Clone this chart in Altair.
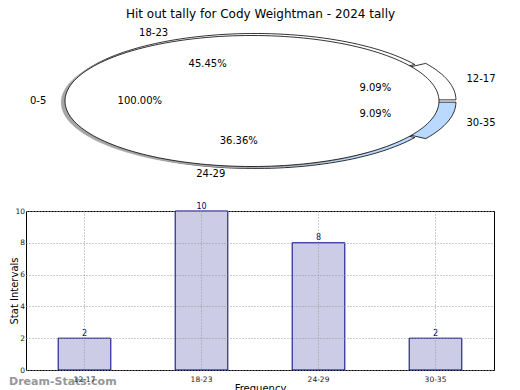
import math
import altair as alt
import numpy as np
import pandas as pd

# ---------------- data ----------------
chart_title = "Hit out tally for Cody Weightman - 2024 tally"
categories = ["12-17", "18-23", "24-29", "30-35"]
counts = [2, 10, 8, 2]
slice_colors = ["#ffffff", "#ffffff", "#b9d9ff", "#b9d9ff"]
slice_explode = [0.06, 0.0, 0.0, 0.06]
full_label = "0-5"
full_values = [1]
y_ticks = [0, 2, 4, 6, 8, 10]
watermark = "Dream-Stats.com"
x_title = "Frequency"
y_title = "Stat Intervals"
bar_fill = "#ccccE6"
bar_stroke = "#000080"

# ---------------- layout ----------------
PW = 468
TOP_H = 184
BOT_H = 159
XU = 190.0   # px per pie unit (x)
YU = 67.5    # px per pie unit (y)
CX_PX = 229
CY_PX = 92
x_dom = [-CX_PX / XU, (PW - CX_PX) / XU]
y_dom = [-(TOP_H - CY_PX) / YU, CY_PX / YU]
FULL_CX = -3 / XU
FULL_RX = 187 / 190
FULL_RY = 65.5 / 67.5
SH_DX = -3.8 / XU
SH_DY = -1.4 / YU
FONT = "DejaVu Sans"

# ---------------- pie geometry from the values ----------------
total = float(sum(counts))
rows, lab_rows, pct_rows = [], [], []
start = 0.0
for cat, v, col, ex in zip(categories, counts, slice_colors, slice_explode):
    span = 360.0 * v / total
    t1, t2 = start, start + span
    mid = math.radians((t1 + t2) / 2)
    ox, oy = ex * math.cos(mid), ex * math.sin(mid)
    n = max(4, int(math.ceil(span / 2.0)))
    rows.append(dict(slice=cat, color=col, idx=0, x=ox, y=oy))
    for k, t in enumerate(np.linspace(t1, t2, n)):
        a = math.radians(t)
        rows.append(dict(slice=cat, color=col, idx=k + 1, x=ox + math.cos(a), y=oy + math.sin(a)))
    lx = ox + 1.1 * math.cos(mid)
    lab_rows.append(dict(text=cat, x=lx, y=oy + 1.1 * math.sin(mid), side="left" if lx > 0 else "right"))
    pct_rows.append(dict(text=f"{100.0 * v / total:.2f}%", x=ox + 0.6 * math.cos(mid), y=oy + 0.6 * math.sin(mid)))
    start = t2
wedges = pd.DataFrame(rows)

full_total = float(sum(full_values))
full_rows, shadow_rows = [], []
for k, t in enumerate(np.linspace(0, 360, 181)[:-1]):
    a = math.radians(t)
    full_rows.append(dict(idx=k, x=FULL_CX + FULL_RX * math.cos(a), y=FULL_RY * math.sin(a)))
    shadow_rows.append(dict(idx=k, x=FULL_CX + SH_DX + FULL_RX * math.cos(a), y=SH_DY + FULL_RY * math.sin(a)))
full_df = pd.DataFrame(full_rows)
shadow_df = pd.DataFrame(shadow_rows)
fmid = math.radians(180.0 * full_values[0] / full_total)
lab_rows.append(dict(text=full_label, x=FULL_CX + 1.1 * FULL_RX * math.cos(fmid), y=1.1 * FULL_RY * math.sin(fmid), side="right"))
pct_rows.append(dict(text=f"{100.0 * full_values[0] / full_total:.2f}%", x=FULL_CX + 0.6 * FULL_RX * math.cos(fmid), y=0.6 * FULL_RY * math.sin(fmid)))
labels_df = pd.DataFrame(lab_rows)
pct_df = pd.DataFrame(pct_rows)

X = alt.X("x:Q", scale=alt.Scale(domain=x_dom, nice=False, zero=False), axis=None)
Y = alt.Y("y:Q", scale=alt.Scale(domain=y_dom, nice=False, zero=False), axis=None)

layers = []
for col in dict.fromkeys(slice_colors):
    layers.append(
        alt.Chart(wedges).transform_filter(alt.datum.color == col)
        .mark_line(interpolate="linear-closed", fill=col, stroke="black", strokeWidth=0.8)
        .encode(x=X, y=Y, order="idx:Q", detail="slice:N")
    )
layers.append(
    alt.Chart(shadow_df).mark_line(interpolate="linear-closed", fill="#a6a6a6", stroke="#a6a6a6", strokeWidth=0.5)
    .encode(x=X, y=Y, order="idx:Q")
)
layers.append(
    alt.Chart(full_df).mark_line(interpolate="linear-closed", fill="#ffffff", stroke="black", strokeWidth=0.8)
    .encode(x=X, y=Y, order="idx:Q")
)
for side in ["left", "right"]:
    layers.append(
        alt.Chart(labels_df).transform_filter(alt.datum.side == side)
        .mark_text(align=side, baseline="middle", font=FONT, fontSize=10, color="black")
        .encode(x=X, y=Y, text="text:N")
    )
layers.append(
    alt.Chart(pct_df).mark_text(align="center", baseline="middle", font=FONT, fontSize=10, color="black")
    .encode(x=X, y=Y, text="text:N")
)
layers.append(
    alt.Chart(pd.DataFrame({"t": [chart_title]}))
    .mark_text(align="center", baseline="top", font=FONT, fontSize=12, color="black")
    .encode(x=alt.value(234.5), y=alt.value(0), text="t:N")
)
top = alt.layer(*layers).properties(width=PW, height=TOP_H, view=alt.ViewBackground(strokeWidth=0))

# ---------------- bar chart ----------------
bars_df = pd.DataFrame({"cat": categories, "count": counts})
xb = alt.X(
    "cat:N", sort=categories,
    scale=alt.Scale(paddingInner=0.55, paddingOuter=0.275),
    axis=alt.Axis(title=x_title, labelAngle=0, labelFont=FONT, labelFontSize=7.5, labelColor="#222222",
                  titleFont=FONT, titleFontSize=10, titleFontWeight="normal", titleColor="black",
                  grid=True, gridDash=[1, 2], gridColor="#999999", ticks=False, domain=False,
                  labelPadding=5, titlePadding=1, bandPosition=0.5, zindex=1, labelOverlap=False),
)
yb = alt.Y(
    "count:Q", scale=alt.Scale(domain=[0, 10], nice=False),
    axis=alt.Axis(values=y_ticks, tickCount=6, title=y_title, labelFont=FONT, labelFontSize=7.5,
                  labelColor="#222222",
                  titleFont=FONT, titleFontSize=10, titleFontWeight="normal", titleColor="black",
                  grid=True, gridDash=[1, 2], gridColor="#999999", ticks=False, domain=False,
                  labelPadding=1.5, titleX=-12, titleY=BOT_H / 2, titleBaseline="middle", titleAlign="center",
                  zindex=1, labelOverlap=False, labelFlush=False),
)
base = alt.Chart(bars_df).encode(x=xb, y=yb)
bars = base.mark_bar(fill=bar_fill, stroke=bar_stroke, strokeWidth=1)
vals = base.mark_text(baseline="bottom", dy=-0.5, font=FONT, fontSize=8, color=bar_stroke).encode(text="count:Q")
wm = alt.Chart(pd.DataFrame({"t": [watermark]})).mark_text(
    align="left", baseline="middle", font=FONT, fontSize=11, fontWeight="bold", color="#8c8c8c", opacity=0.9
).encode(x=alt.value(-17), y=alt.value(BOT_H + 12), text="t:N")
bottom = alt.layer(bars, vals, wm).properties(
    width=PW, height=BOT_H, view=alt.ViewBackground(stroke="black", strokeWidth=1))

chart = alt.vconcat(top, bottom, spacing=18, bounds="flush").properties(padding=0).configure(background="white")
chart.save("out.html", embed_options={"renderer": "svg", "actions": False})
